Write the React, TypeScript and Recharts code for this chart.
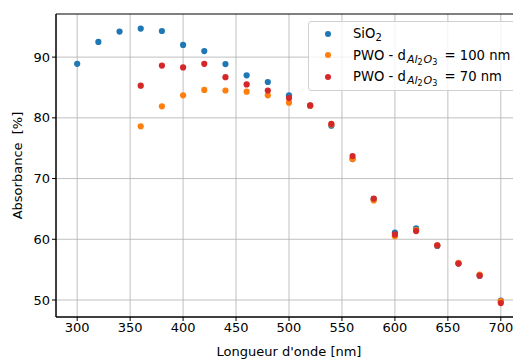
import React from 'react';
import { ScatterChart, Scatter, XAxis, YAxis, CartesianGrid, ReferenceArea } from 'recharts';

const lambdaSiO2 = [300, 320, 340, 360, 380, 400, 420, 440, 460, 480, 500, 520, 540, 560, 580, 600, 620, 640, 660, 680, 700];
const absSiO2 = [88.9, 92.5, 94.2, 94.7, 94.3, 92.0, 91.0, 88.85, 87.0, 85.9, 83.7, 82.0, 78.7, 73.2, 66.6, 61.1, 61.8, 58.9, 56.0, 54.0, 49.9];

const lambdaPWO = [360, 380, 400, 420, 440, 460, 480, 500, 520, 540, 560, 580, 600, 620, 640, 660, 680, 700];
const absPWO100 = [78.6, 81.9, 83.7, 84.6, 84.5, 84.3, 83.7, 82.5, 82.0, 78.9, 73.2, 66.4, 60.5, 61.5, 59.0, 56.1, 54.2, 49.8];
const absPWO70 = [85.3, 88.6, 88.3, 88.9, 86.7, 85.5, 84.5, 83.25, 82.05, 79.0, 73.7, 66.7, 60.8, 61.35, 59.0, 56.0, 54.0, 49.5];

const xTicks = [300, 350, 400, 450, 500, 550, 600, 650, 700];
const yTicks = [50, 60, 70, 80, 90];

const X_MIN = 280;
const X_MAX = 720;
const Y_MIN = 47.2;
const Y_MAX = 97.1;

const FONT = '"DejaVu Sans", sans-serif';
const FS = 13;
const LEGEND_FS = 13.2;

const toPoints = (xs: number[], ys: number[]) => xs.map((x, i) => ({ x, y: ys[i] }));

const dataSiO2 = toPoints(lambdaSiO2, absSiO2);
const dataPWO100 = toPoints(lambdaPWO, absPWO100);
const dataPWO70 = toPoints(lambdaPWO, absPWO70);

const dot = (color: string) => (props: any) => (
  <circle cx={props.cx} cy={props.cy} r={3.1} fill={color} />
);

const Sub = () => (
  <span style={{ fontSize: 11, position: 'relative', top: 3, marginLeft: 1, marginRight: 3 }}>
    <i>Al</i>
    <span style={{ fontSize: 8, position: 'relative', top: 2, marginRight: 1 }}>2</span>
    <i>O</i>
    <span style={{ fontSize: 8, position: 'relative', top: 2 }}>3</span>
  </span>
);

const legendItems = [
  { color: '#1f77b4', label: <span>SiO<span style={{ fontSize: 10, position: 'relative', top: 3 }}>2</span></span> },
  { color: '#ff7f0e', label: <span>PWO - d<Sub /> = 100 nm</span> },
  { color: '#d62728', label: <span>PWO - d<Sub /> = 70 nm</span> },
];

const LegendBox = () => (
  <div
    style={{
      position: 'absolute',
      left: 308,
      top: 21,
      border: '1px solid #d0d0d0',
      borderRadius: 3,
      background: 'rgba(255,255,255,0.8)',
      padding: '1px 0 2px 0',
      width: 230,
      fontFamily: FONT,
      fontSize: LEGEND_FS,
      color: '#000',
    }}
  >
    {legendItems.map((it, i) => (
      <div key={i} style={{ display: 'flex', alignItems: 'center', height: 21.5, whiteSpace: 'pre' }}>
        <span
          style={{
            display: 'inline-block',
            width: 6,
            height: 6,
            borderRadius: 3,
            background: it.color,
            marginLeft: 16,
            marginRight: 22,
          }}
        />
        {it.label}
      </div>
    ))}
  </div>
);

export default function App() {
  return (
    <div style={{ position: 'absolute', left: 0, top: 0, width: 513, height: 359, overflow: 'hidden', background: '#fff' }}>
      <ScatterChart width={530} height={359} margin={{ top: 14, right: 8, bottom: 0, left: 0 }}>
        <CartesianGrid stroke="#b0b0b0" strokeWidth={0.8} horizontalValues={yTicks} verticalValues={xTicks} />
        <XAxis
          type="number"
          dataKey="x"
          domain={[X_MIN, X_MAX]}
          ticks={xTicks}
          allowDataOverflow
          height={42}
          stroke="#000"
          tickSize={4}
          tick={{ fill: '#000', fontSize: FS, fontFamily: FONT }}
          label={{ value: "Longueur d'onde [nm]", position: 'insideBottom', offset: 3, fill: '#000', fontSize: FS, fontFamily: FONT }}
        />
        <YAxis
          type="number"
          dataKey="y"
          domain={[Y_MIN, Y_MAX]}
          ticks={yTicks}
          allowDataOverflow
          width={56}
          stroke="#000"
          tickSize={4}
          tick={{ fill: '#000', fontSize: FS, fontFamily: FONT }}
          label={{ value: 'Absorbance\u00a0 [%]', angle: -90, position: 'insideLeft', offset: 17, fill: '#000', fontSize: FS, fontFamily: FONT, style: { textAnchor: 'middle' } }}
        />
        <ReferenceArea x1={X_MIN} x2={X_MAX} y1={Y_MIN} y2={Y_MAX} fill="none" stroke="#000" strokeWidth={1} />
        <Scatter name="SiO2" data={dataSiO2} fill="#1f77b4" shape={dot('#1f77b4')} isAnimationActive={false} />
        <Scatter name="PWO 100" data={dataPWO100} fill="#ff7f0e" shape={dot('#ff7f0e')} isAnimationActive={false} />
        <Scatter name="PWO 70" data={dataPWO70} fill="#d62728" shape={dot('#d62728')} isAnimationActive={false} />
      </ScatterChart>
      <LegendBox />
    </div>
  );
}
